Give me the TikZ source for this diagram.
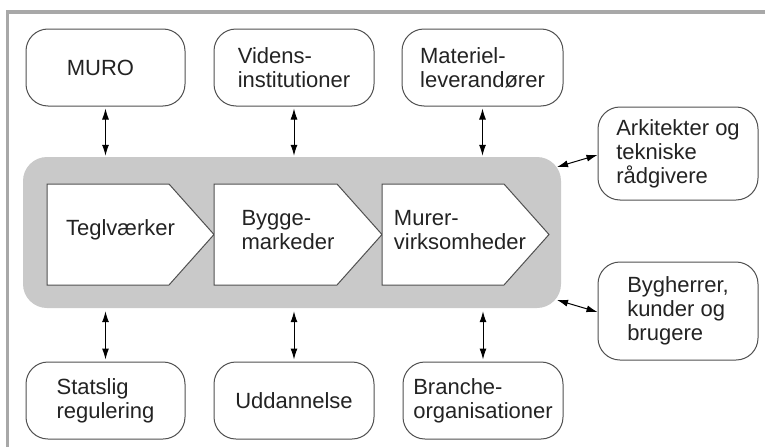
\documentclass[tikz,border=0pt]{standalone}
\usepackage{fontspec}
\setmainfont{Liberation Sans}
\usetikzlibrary{arrows.meta}
\definecolor{framegray}{RGB}{168,168,168}
\definecolor{coregray}{RGB}{201,201,201}
\definecolor{inkgray}{RGB}{35,35,35}
\definecolor{edgegray}{RGB}{80,80,80}
\begin{document}
\begin{tikzpicture}[x=1pt,y=-1pt,
  actor/.style={draw=edgegray, line width=1pt, fill=white, rounded corners=22pt,
    minimum width=160pt, inner sep=0pt, align=left, text=inkgray,
    font=\fontsize{22}{24}\selectfont},
  label/.style={inner sep=0pt, align=left, text=inkgray,
    font=\fontsize{22}{24}\selectfont},
  chevron/.style={draw=edgegray, line width=1pt, fill=white, line join=miter},
  dbl/.style={{Latex[length=11pt,width=7pt]}-{Latex[length=11pt,width=7pt]}, line width=1pt, black},
  framestroke/.style={draw=framegray, line width=3.5pt}]

\useasboundingbox (0,0) rectangle (765,447);
\fill[white] (0,0) rectangle (765,447);

% outer frame (top and left edges)
\draw[framestroke] (7.5,447) -- (7.5,12) -- (765,12);

% grey value-chain band
\node[fill=coregray, rounded corners=24pt, minimum width=538pt, minimum height=151pt,
      inner sep=0pt] (core) at (292,232.5) {};

% value chain steps
\draw[chevron] (47,184) -- (169,184) -- (214,234.5) -- (169,285) -- (47,285) -- cycle;
\draw[chevron] (214,184) -- (337,184) -- (382,234.5) -- (337,285) -- (214,285) -- cycle;
\draw[chevron] (382,184) -- (504,184) -- (549,234.5) -- (504,285) -- (382,285) -- cycle;
\node[label] (tegl) at (120.5,230) {Teglværker};
\node[label] (bygge) at (288,230) {Bygge-\\markeder};
\node[label] (murer) at (460,230) {Murer-\\virksomheder};

% surrounding actors
\node[actor, minimum width=159pt, minimum height=77pt] (muro) at (105.5,67.5) {MURO\hspace{10pt}};
\node[actor, minimum height=77pt] (videns) at (294,67.5) {Videns-\\institutioner};
\node[actor, minimum width=161pt, minimum height=77pt] (materiel) at (482.5,67.5) {Materiel-\\leverandører};
\node[actor, minimum height=93pt] (arkitekter) at (678,153.5) {Arkitekter og\\tekniske\\rådgivere};
\node[actor, minimum height=98pt] (bygherrer) at (678,311) {Bygherrer,\hspace{16pt}\\kunder og\\brugere};
\node[actor, minimum width=159pt, minimum height=77pt] (statslig) at (105.5,400.5) {Statslig\\regulering};
\node[actor, minimum height=77pt] (uddannelse) at (294,400.5) {Uddannelse};
\node[actor, minimum width=160pt, minimum height=77pt] (branche) at (483,400.5) {Branche-\\organisationer};

% links between the band and the actors
\draw[dbl, shorten <=2pt, shorten >=1pt] (muro.south) -- (muro.south |- core.north);
\draw[dbl, shorten <=2pt, shorten >=1pt] (videns.south) -- (videns.south |- core.north);
\draw[dbl, shorten <=2pt, shorten >=1pt] (materiel.south) -- (materiel.south |- core.north);
\draw[dbl, shorten <=3pt, shorten >=2pt] (statslig.north |- core.south) -- (statslig.north);
\draw[dbl, shorten <=3pt, shorten >=2pt] (uddannelse.north |- core.south) -- (uddannelse.north);
\draw[dbl, shorten <=3pt, shorten >=2pt] (branche.north |- core.south) -- (branche.north);

\coordinate (coreNE) at (557,167);
\coordinate (coreSE) at (557,300);
\draw[dbl] (coreNE) -- ([yshift=-1.5pt]arkitekter.west);
\draw[dbl] (coreSE) -- ([yshift=-1pt]bygherrer.west);
\end{tikzpicture}
\end{document}
